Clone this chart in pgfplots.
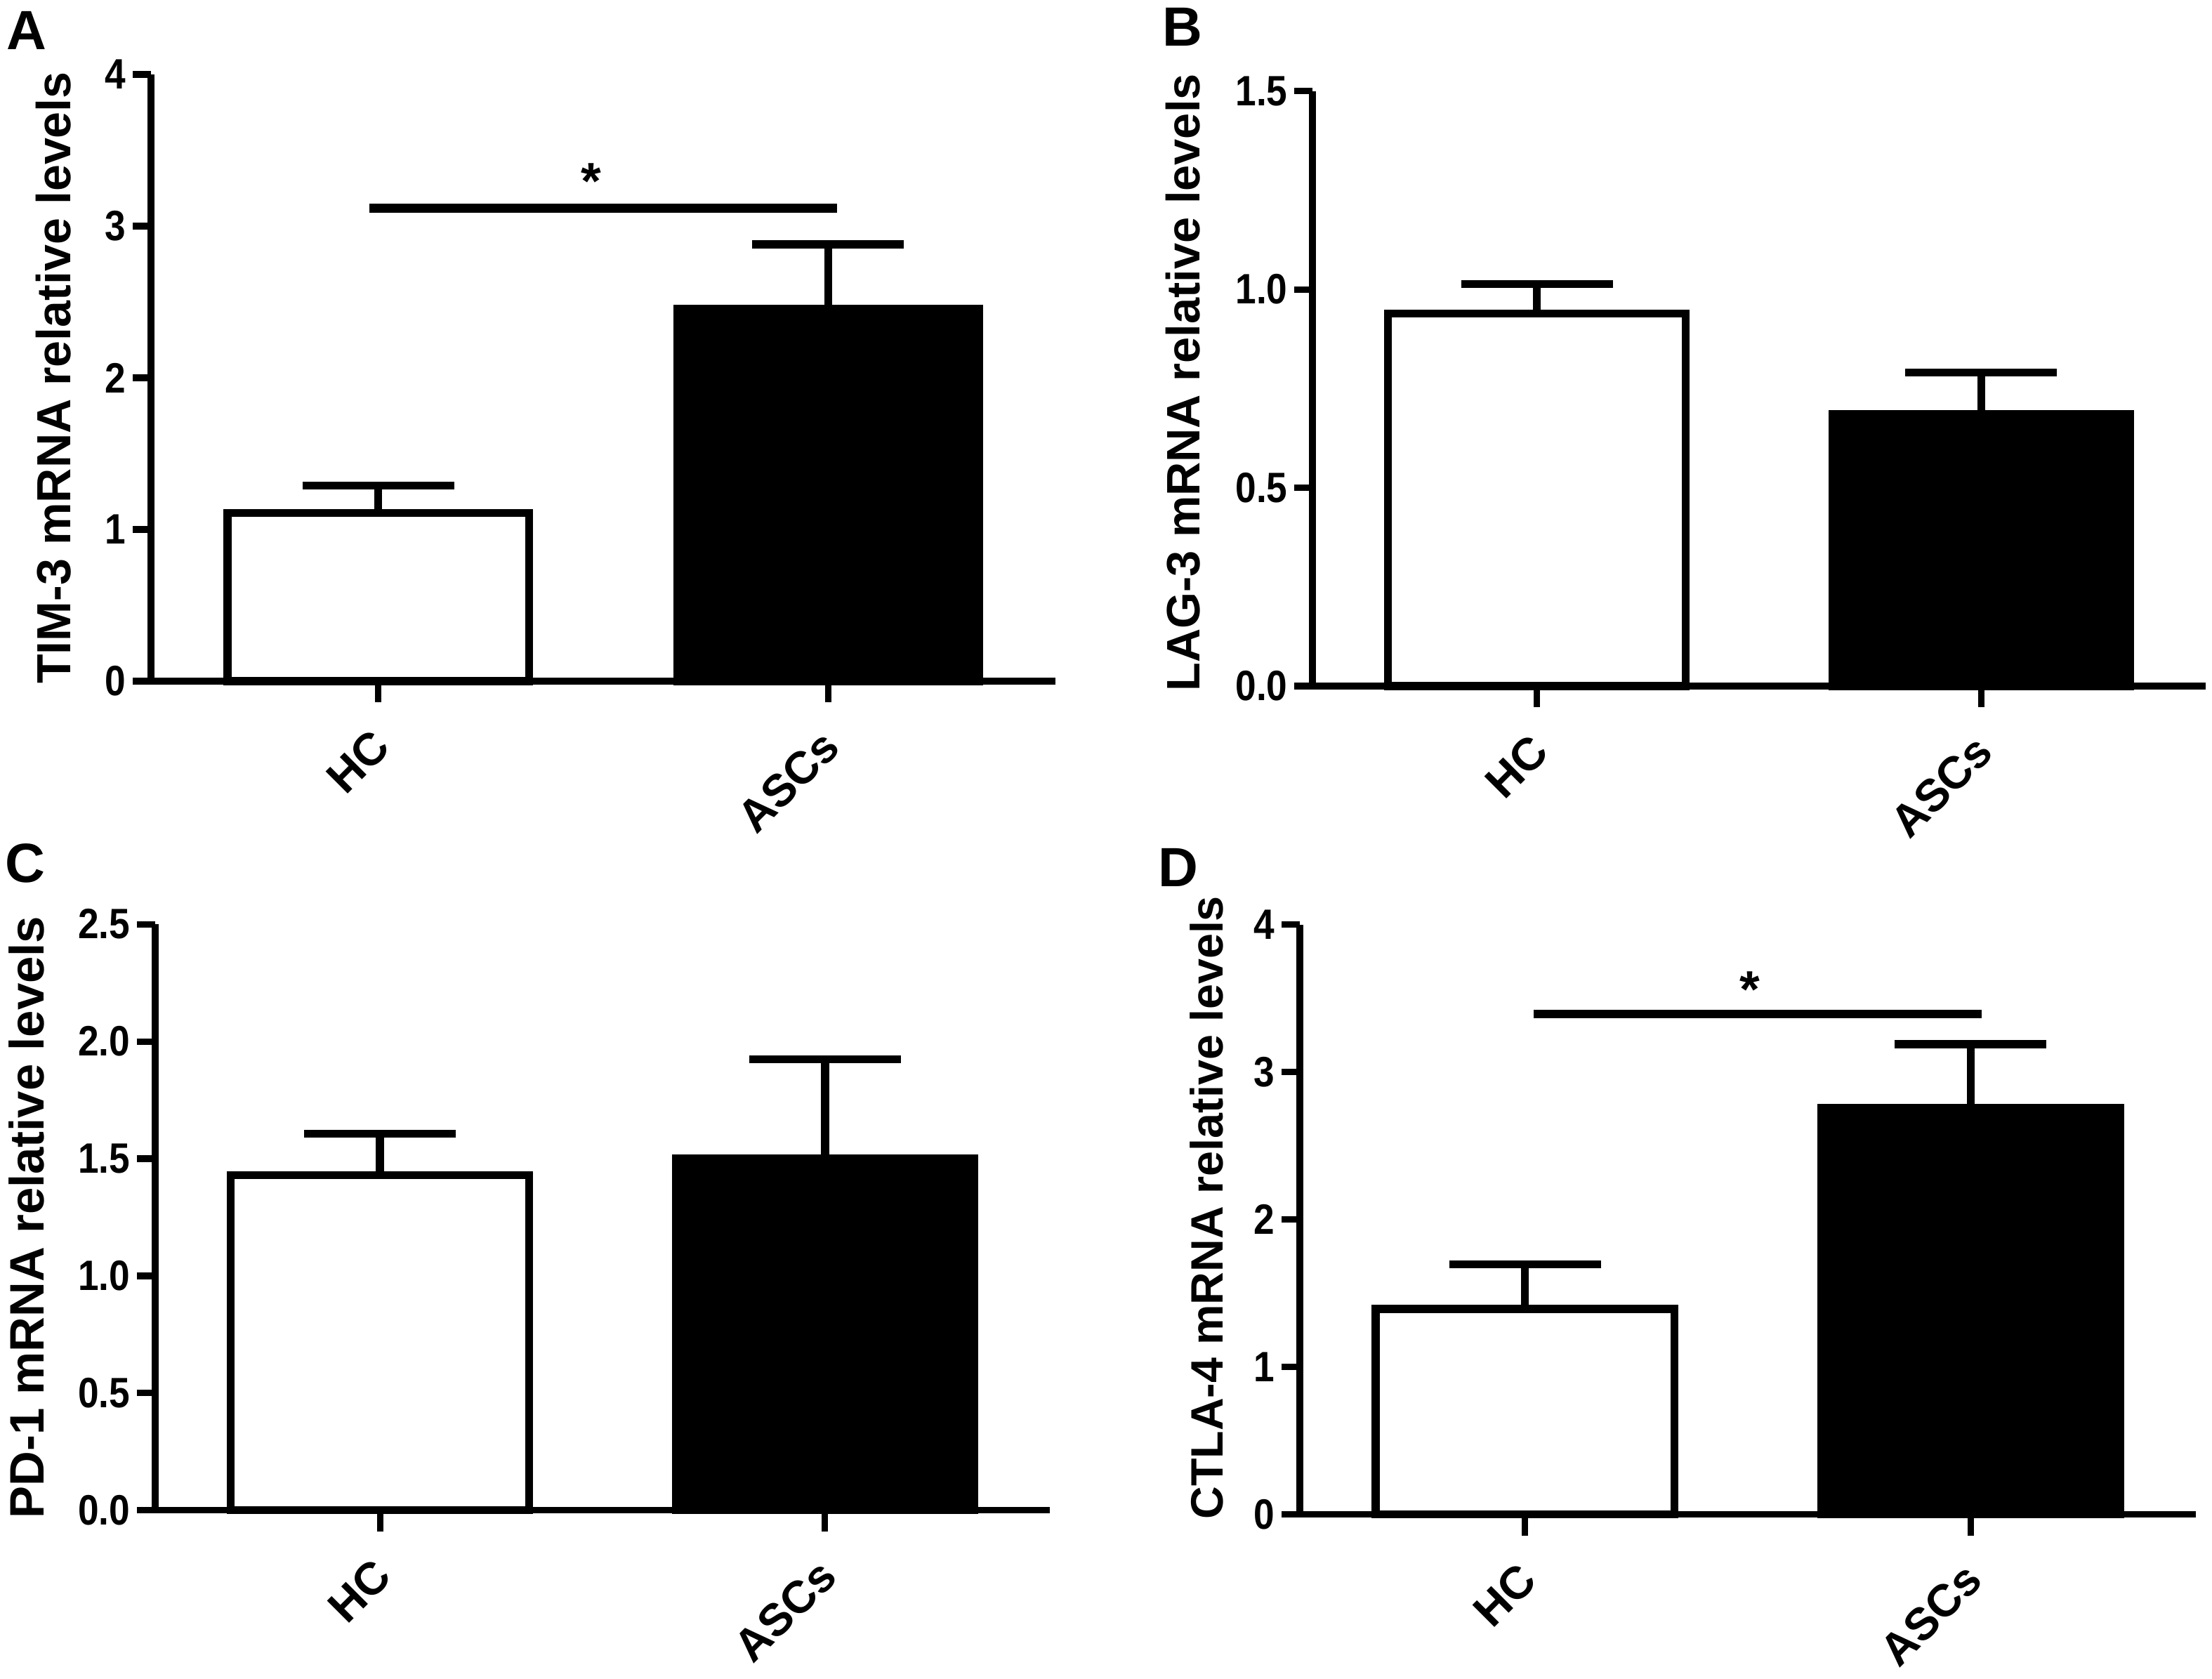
\documentclass[border=0pt]{standalone}
\usepackage{fontspec}
\setmainfont{Liberation Sans}
\newfontfamily\tickfont{Liberation Sans}[FakeStretch=0.88]
\usepackage{pgfplots}
\pgfplotsset{compat=1.18}
\tikzset{sigstar/.style={font=\fontsize{10.5}{11}\selectfont\bfseries, yshift=-0.7mm}}
\begin{document}
\begin{tikzpicture}
\useasboundingbox (0mm,0mm) rectangle (157.5mm,119.55mm);
\pgfplotsset{
  panel/.style={
    scale only axis,
    axis x line*=bottom, axis y line*=left,
    axis line style={line width=1.3pt, -},
    ymin=0, clip=false,
    xmin=-0.505, xmax=1.505,
    xtick={0,1}, xticklabels={HC,ASCs},
    xticklabel style={xshift=-0.6mm, yshift=-1.7mm, rotate=45, anchor=north east, font=\fontsize{9.2}{10}\selectfont\bfseries, inner sep=0pt},
    yticklabel style={font=\fontsize{8.6}{9}\selectfont\tickfont\bfseries, inner sep=0.6pt},
    /pgf/number format/assume math mode=true,
    tick align=outside,
    xtick style={line width=1.3pt, /pgfplots/major tick length=1.5mm, black},
    ytick style={line width=1.3pt, /pgfplots/major tick length=1.3mm, black},
    ylabel style={anchor=center},
  },
  barw/.style={ybar, bar shift=0pt, bar width=0.67, fill=white, draw=black, line width=1.6pt,
    error bars/.cd, y dir=plus, y explicit, error mark=|,
    error bar style={line width=1.6pt, black},
    error mark options={line width=1.6pt, mark size=5.4mm, black}},
  bark/.style={ybar, bar shift=0pt, bar width=0.67, fill=black, draw=black, line width=1.6pt,
    error bars/.cd, y dir=plus, y explicit, error mark=|,
    error bar style={line width=1.6pt, black},
    error mark options={line width=1.6pt, mark size=5.4mm, black}},
}
% Panel A
\begin{axis}[panel, at={(10.75mm,71.05mm)}, anchor=south west,
  width=64.4mm, height=43.2mm, ymax=4, ytick={0,1,2,3,4},
  ylabel={TIM-3 mRNA relative levels},
  ylabel style={at={(axis description cs:-0.108,0.5)}, font=\fontsize{9.7}{11}\selectfont\bfseries}]
\addplot[barw] coordinates {(0,1.110) +- (0,0.180)};
\addplot[bark] coordinates {(1,2.456) +- (0,0.424)};
\draw[line width=1.8pt] (axis cs:-0.02,3.117) -- (axis cs:1.02,3.117);
\node[sigstar] at (axis cs:0.474,3.36) {*};
\end{axis}
% Panel B
\begin{axis}[panel, at={(93.45mm,70.7mm)}, anchor=south west,
  width=63.6mm, height=42.36mm, ymax=1.5, ytick={0,0.5,1,1.5},
  yticklabel style={/pgf/number format/.cd, fixed, fixed zerofill, precision=1},
  ylabel={LAG-3 mRNA relative levels},
  ylabel style={at={(axis description cs:-0.145,0.51)}, font=\fontsize{9.5}{11}\selectfont\bfseries}]
\addplot[barw] coordinates {(0,0.939) +- (0,0.075)};
\addplot[bark] coordinates {(1,0.686) +- (0,0.105)};
\end{axis}
% Panel C
\begin{axis}[panel, at={(11.05mm,12.01mm)}, anchor=south west,
  width=63.7mm, height=41.73mm, ymax=2.5, ytick={0,0.5,1,1.5,2,2.5},
  yticklabel style={/pgf/number format/.cd, fixed, fixed zerofill, precision=1},
  ylabel={PD-1 mRNA relative levels},
  ylabel style={at={(axis description cs:-0.144,0.5)}, font=\fontsize{9.8}{11}\selectfont\bfseries}]
\addplot[barw] coordinates {(0,1.429) +- (0,0.177)};
\addplot[bark] coordinates {(1,1.500) +- (0,0.423)};
\end{axis}
% Panel D
\begin{axis}[panel, at={(92.55mm,11.72mm)}, anchor=south west,
  width=63.8mm, height=42.0mm, ymax=4, ytick={0,1,2,3,4},
  ylabel={CTLA-4 mRNA relative levels},
  ylabel style={at={(axis description cs:-0.104,0.52)}, font=\fontsize{9.2}{11}\selectfont\bfseries}]
\addplot[barw] coordinates {(0,1.393) +- (0,0.303)};
\addplot[bark] coordinates {(1,2.757) +- (0,0.432)};
\draw[line width=1.8pt] (axis cs:0.02,3.393) -- (axis cs:1.024,3.393);
\node[sigstar] at (axis cs:0.505,3.625) {*};
\end{axis}
% panel letters
\node[anchor=north west, inner sep=0pt, font=\fontsize{11.2}{12}\selectfont\bfseries] at (0.4mm,118.8mm) {A};
\node[anchor=north west, inner sep=0pt, font=\fontsize{11.2}{12}\selectfont\bfseries] at (82.7mm,119.05mm) {B};
\node[anchor=north west, inner sep=0pt, font=\fontsize{11.2}{12}\selectfont\bfseries] at (0.3mm,59.55mm) {C};
\node[anchor=north west, inner sep=0pt, font=\fontsize{11.2}{12}\selectfont\bfseries] at (82.4mm,59.2mm) {D};
\end{tikzpicture}
\end{document}
